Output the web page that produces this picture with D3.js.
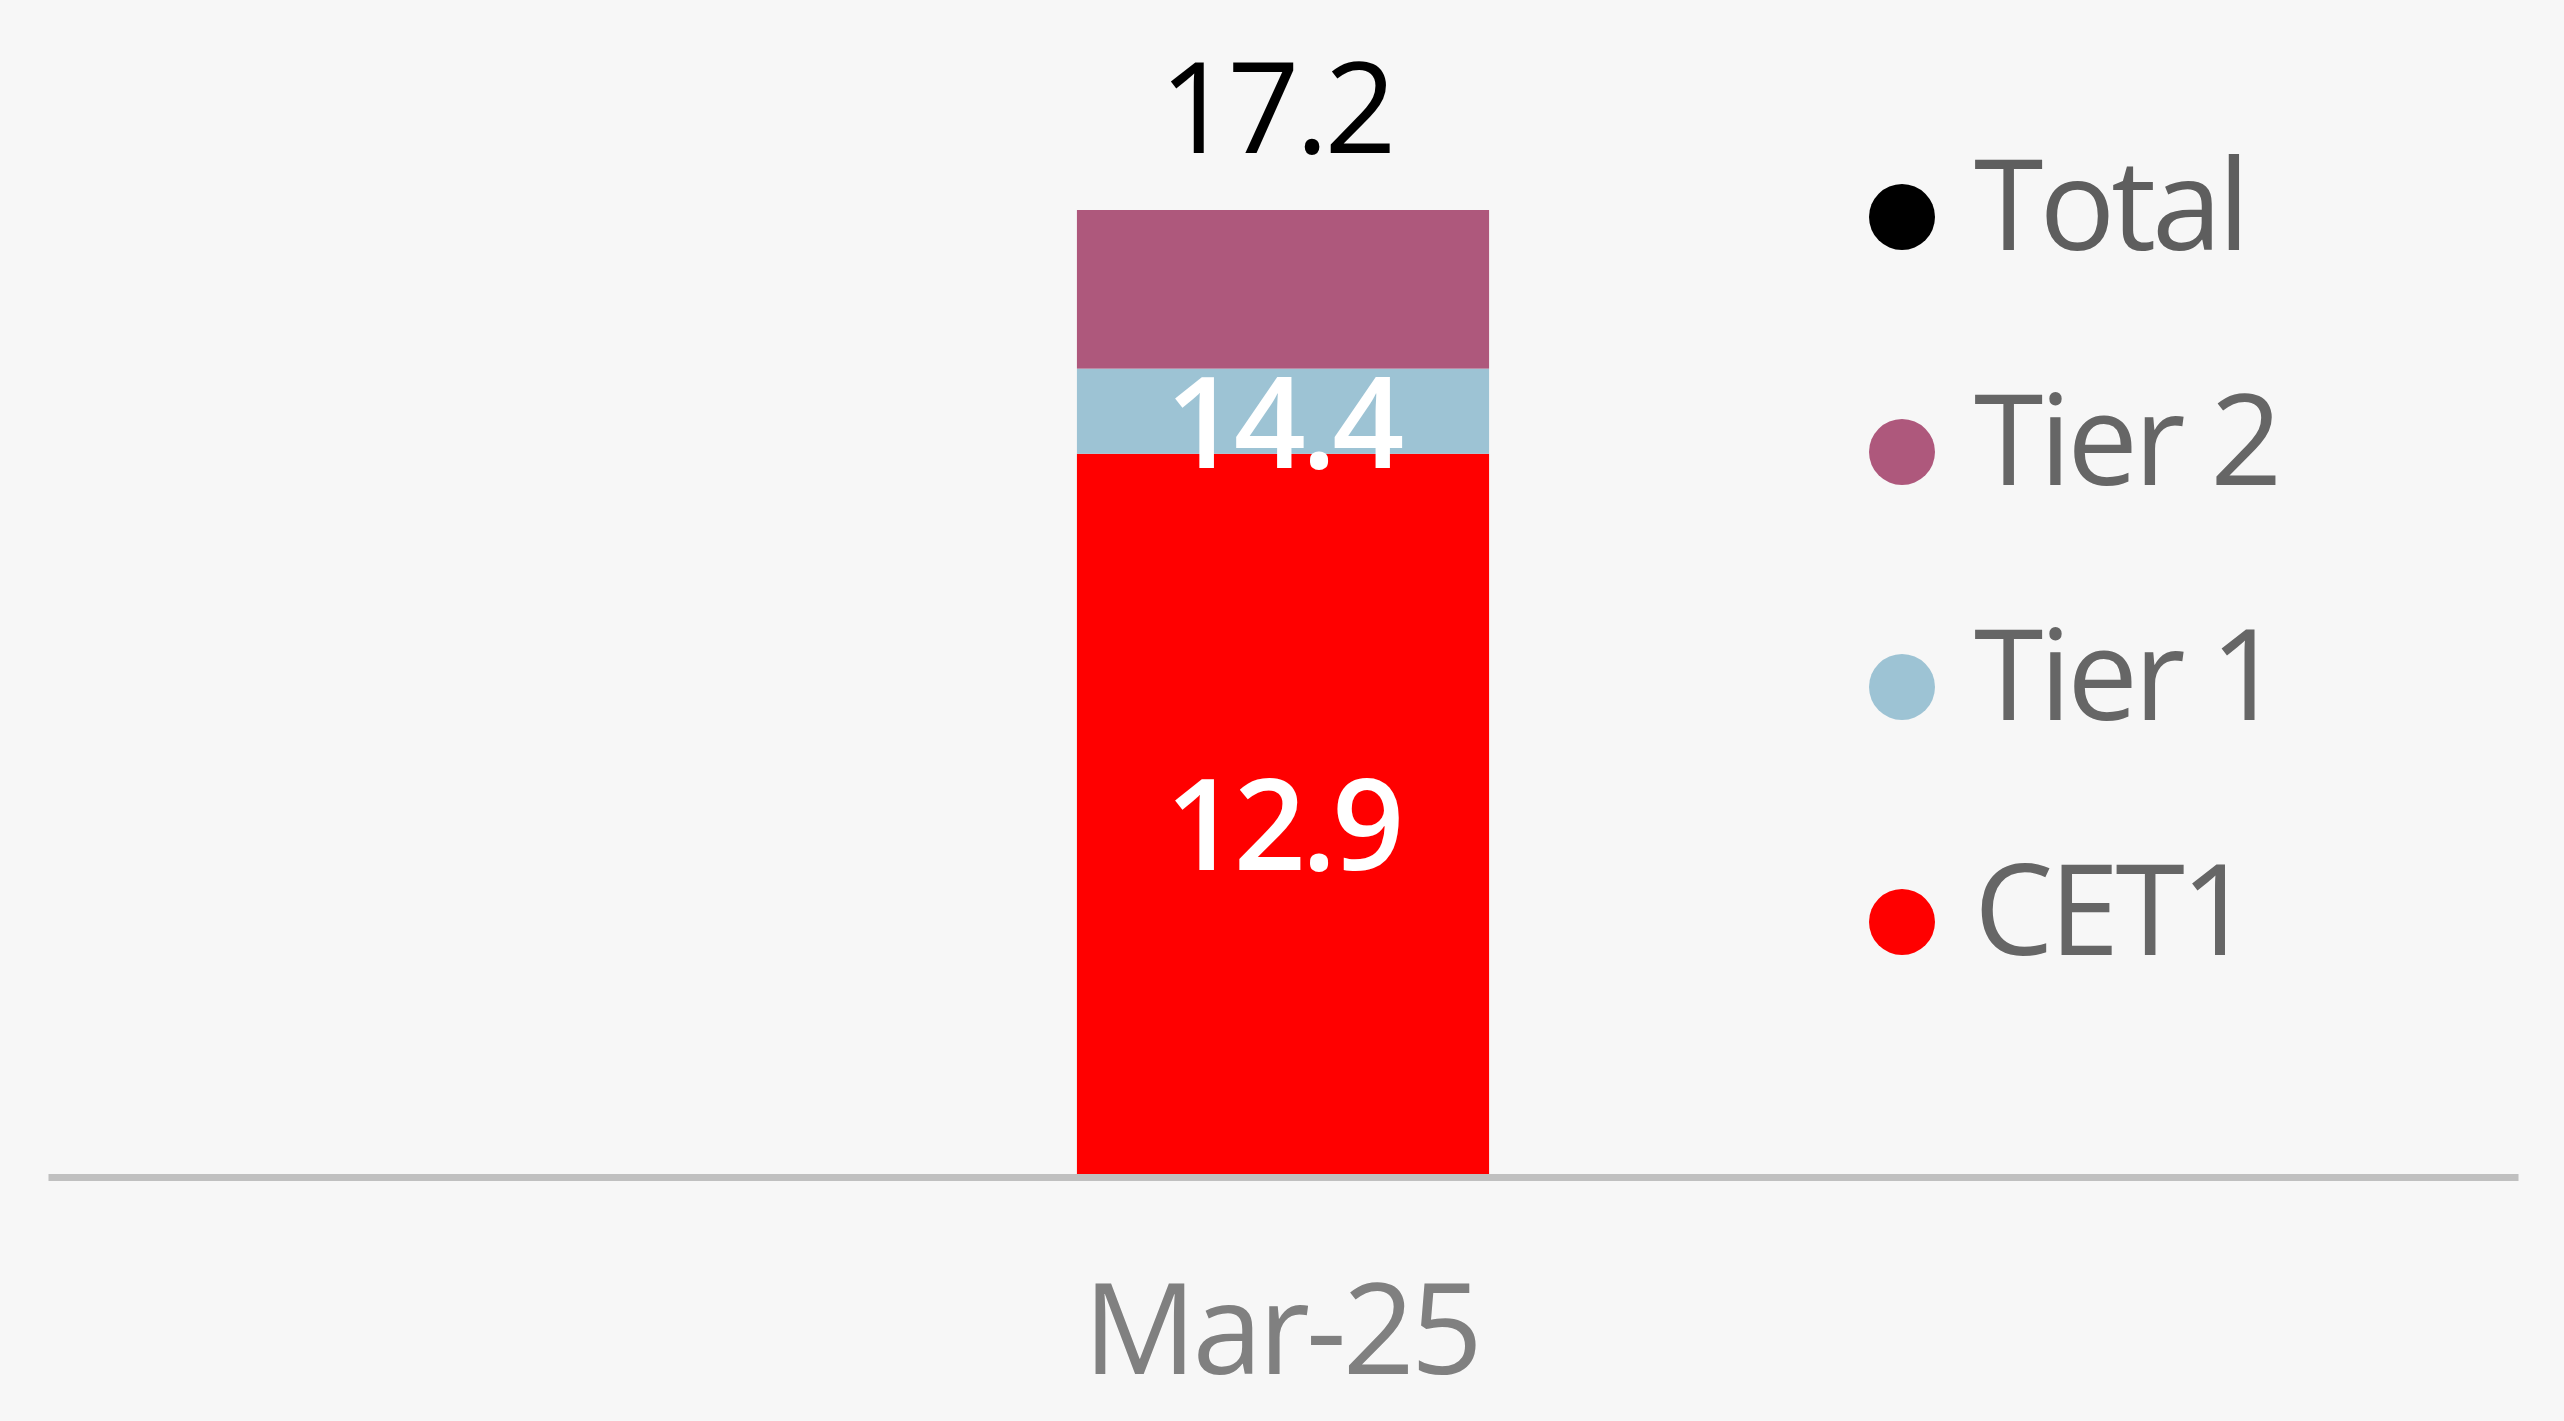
<!DOCTYPE html>
<html>
<head>
<meta charset="utf-8">
<script src="https://cdn.jsdelivr.net/npm/d3@7"></script>
<style>
  html, body { margin: 0; padding: 0; background: #f7f7f7; }
  svg { display: block; }
  text { font-family: "Open Sans", "Noto Sans", sans-serif; letter-spacing: -4px; }
</style>
</head>
<body>
<svg id="chart" width="2564" height="1421"></svg>
<script>
// ---- data ----
const categories = ["Mar-25"];
const cet1 = [12.85];
const tier1Add = [1.52];   // Tier 1 cumulative ~14.4
const tier2Add = [2.83];   // Total ~17.2
const tier1Labels = ["14.4"];
const cet1Labels = ["12.9"];
const totalLabels = ["17.2"];
const seriesNames = ["CET1", "Tier 1", "Tier 2"];
const legendNames = ["Total", "Tier 2", "Tier 1", "CET1"];
const colors = { "CET1": "#ff0000", "Tier 1": "#9dc3d4", "Tier 2": "#ae587c", "Total": "#000000" };

const svg = d3.select("#chart");
const W = 2564, H = 1421;
svg.append("rect").attr("width", W).attr("height", H).attr("fill", "#f7f7f7");

const x = d3.scaleBand().domain(categories).range([48, 2518]).padding(0.714);
const y = d3.scaleLinear().domain([0, 17.2]).range([1174, 210]);

const rows = categories.map((c, i) => ({ cat: c, "CET1": cet1[i], "Tier 1": tier1Add[i], "Tier 2": tier2Add[i] }));
const stacked = d3.stack().keys(seriesNames)(rows);

svg.append("g").selectAll("g").data(stacked).join("g")
  .attr("fill", d => colors[d.key])
  .selectAll("rect").data(d => d).join("rect")
  .attr("x", d => x(d.data.cat))
  .attr("width", x.bandwidth())
  .attr("y", d => y(d[1]))
  .attr("height", d => y(d[0]) - y(d[1]));

// axis
const axis = svg.append("g").attr("transform", "translate(0,1177)")
  .call(d3.axisBottom(x).tickSize(0).tickPadding(0));
axis.select(".domain").attr("stroke", "#c0c0c0").attr("stroke-width", 7);
axis.selectAll("text")
  .attr("font-family", '"Open Sans", sans-serif')
  .attr("font-size", 126).attr("fill", "#808080")
  .attr("dy", null).attr("y", 197).attr("dx", -2);

const cx = c => x(c) + x.bandwidth() / 2;
// labels
svg.append("g").selectAll("text").data(categories).join("text")
  .attr("x", d => cx(d) - 7).attr("y", 153).attr("text-anchor", "middle")
  .attr("font-size", 126).attr("fill", "#000").text((d, i) => totalLabels[i]);
svg.append("g").selectAll("text").data(categories).join("text")
  .attr("x", cx).attr("y", 468).attr("text-anchor", "middle")
  .attr("font-size", 126).attr("font-weight", 600).attr("fill", "#fff").text((d, i) => tier1Labels[i]);
svg.append("g").selectAll("text").data(categories).join("text")
  .attr("x", cx).attr("y", 870).attr("text-anchor", "middle")
  .attr("font-size", 126).attr("font-weight", 600).attr("fill", "#fff").text((d, i) => cet1Labels[i]);

// legend
const leg = svg.append("g").selectAll("g").data(legendNames).join("g")
  .attr("transform", (d, i) => `translate(1902, ${217 + i * 235})`);
leg.append("circle").attr("r", 33).attr("fill", d => colors[d]);
leg.append("text").attr("x", 72).attr("y", 33)
  .attr("font-size", 126).attr("fill", (d, i) => i === 0 ? "#5e5e5e" : "#666666").text(d => d);
</script>
</body>
</html>
